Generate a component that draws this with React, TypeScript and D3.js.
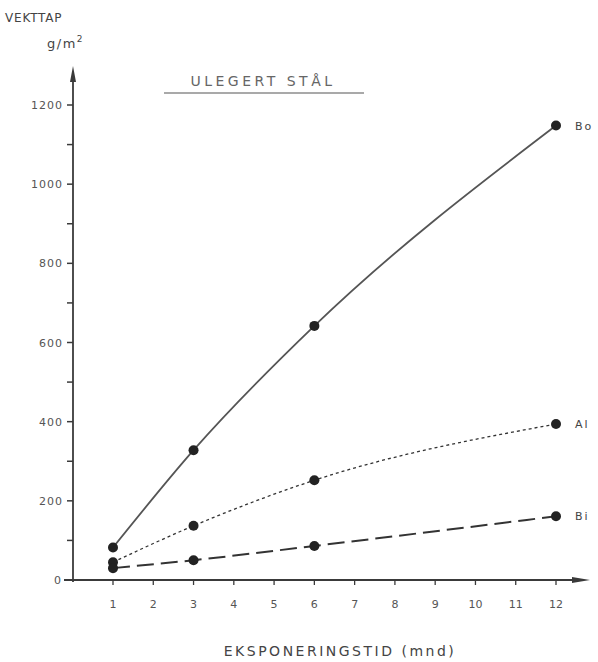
import React, { useEffect, useRef } from 'react';
import * as d3 from 'd3';

// months of exposure
const months = [1, 3, 6, 12];
// weight loss g/m2 per site
const boValues = [82, 328, 642, 1148];
const alValues = [45, 137, 252, 394];
const biValues = [30, 50, 86, 161];
const seriesNames = ['Bo', 'Al', 'Bi'];
const xTickValues = [1, 2, 3, 4, 5, 6, 7, 8, 9, 10, 11, 12];
const yTickValues = [0, 200, 400, 600, 800, 1000, 1200];

const W = 598;
const H = 662;

const App = () => {
    const svgRef = useRef<SVGSVGElement>(null);

    useEffect(() => {
        const svg = d3.select(svgRef.current);
        svg.selectAll('*').remove();

        const x = d3.scaleLinear().domain([1, 12]).range([113, 556]);
        const y = d3.scaleLinear().domain([0, 1200]).range([580, 105]);
        const axisX = 73;
        const ink = '#3a3a3a';
        const font = '"DejaVu Sans", sans-serif';

        // axes lines
        svg.append('line')
            .attr('x1', axisX).attr('x2', axisX)
            .attr('y1', y(0) + 2).attr('y2', 72)
            .attr('stroke', ink).attr('stroke-width', 1.8);
        svg.append('path')
            .attr('d', `M${axisX},66 L${axisX - 3},82 L${axisX + 3},82 Z`)
            .attr('fill', ink);
        svg.append('line')
            .attr('x1', 64).attr('x2', 580)
            .attr('y1', y(0)).attr('y2', y(0))
            .attr('stroke', ink).attr('stroke-width', 1.8);
        svg.append('path')
            .attr('d', `M590,${y(0)} L572,${y(0) - 3} L572,${y(0) + 3} Z`)
            .attr('fill', ink);

        // y ticks (minor every 100)
        const yMinor = d3.range(100, 1200, 100);
        svg.selectAll('.ytick')
            .data(yMinor.concat([1200]))
            .enter()
            .append('line')
            .attr('x1', axisX - 6).attr('x2', axisX)
            .attr('y1', d => y(d)).attr('y2', d => y(d))
            .attr('stroke', ink).attr('stroke-width', 1.5);

        svg.selectAll('.ylabel')
            .data(yTickValues)
            .enter()
            .append('text')
            .attr('x', d => d === 0 ? 62 : 63)
            .attr('y', d => y(d) + 4)
            .attr('text-anchor', 'end')
            .attr('font-family', font)
            .attr('font-size', 11)
            .attr('letter-spacing', 1)
            .attr('fill', '#555')
            .text(d => d);

        // x ticks
        svg.selectAll('.xtick')
            .data(xTickValues)
            .enter()
            .append('line')
            .attr('x1', d => x(d)).attr('x2', d => x(d))
            .attr('y1', y(0)).attr('y2', y(0) + 5)
            .attr('stroke', ink).attr('stroke-width', 1.3);

        svg.selectAll('.xlabel')
            .data(xTickValues)
            .enter()
            .append('text')
            .attr('x', d => x(d))
            .attr('y', 608)
            .attr('text-anchor', 'middle')
            .attr('font-family', font)
            .attr('font-size', 11)
            .attr('fill', '#555')
            .text(d => d);

        // series
        const seriesData = [boValues, alValues, biValues];
        const dashes = [null, '3,3', '17,7'];
        const widths = [1.8, 1.3, 2];
        const strokes = ['#555', '#333', '#333'];
        seriesData.forEach((vals, i) => {
            const pts = months.map((m, j) => [m, vals[j]] as [number, number]);
            const line = d3.line<[number, number]>()
                .x(d => x(d[0]))
                .y(d => y(d[1]))
                .curve(d3.curveMonotoneX);
            svg.append('path')
                .attr('d', line(pts))
                .attr('fill', 'none')
                .attr('stroke', strokes[i])
                .attr('stroke-width', widths[i])
                .attr('stroke-dasharray', dashes[i]);
            svg.selectAll(`.pt${i}`)
                .data(pts)
                .enter()
                .append('circle')
                .attr('cx', d => x(d[0]))
                .attr('cy', d => y(d[1]))
                .attr('r', 5)
                .attr('fill', '#222');
            svg.append('text')
                .attr('x', x(12) + 19)
                .attr('y', y(vals[vals.length - 1]) + 4)
                .attr('font-family', font)
                .attr('font-size', 11)
                .attr('letter-spacing', 2)
                .attr('fill', '#444')
                .text(seriesNames[i]);
        });

        // titles
        svg.append('text')
            .attr('x', 5).attr('y', 22)
            .attr('font-family', font).attr('font-size', 12)
            .attr('letter-spacing', 0.8)
            .attr('fill', '#444')
            .text('VEKTTAP');
        svg.append('text')
            .attr('x', 47).attr('y', 48)
            .attr('font-family', font).attr('font-size', 13)
            .attr('letter-spacing', 1.5)
            .attr('fill', '#444')
            .text('g/m')
            .append('tspan')
            .attr('dy', -6)
            .attr('font-size', 9)
            .text('2');

        svg.append('text')
            .attr('x', 263).attr('y', 86)
            .attr('text-anchor', 'middle')
            .attr('font-family', font).attr('font-size', 14)
            .attr('letter-spacing', 3.5)
            .attr('fill', '#666')
            .text('ULEGERT  STÅL');
        svg.append('line')
            .attr('x1', 164).attr('x2', 364)
            .attr('y1', 93).attr('y2', 93)
            .attr('stroke', '#555').attr('stroke-width', 1.2);

        svg.append('text')
            .attr('x', 340).attr('y', 656)
            .attr('text-anchor', 'middle')
            .attr('font-family', font).attr('font-size', 14)
            .attr('letter-spacing', 2.5)
            .attr('fill', '#444')
            .text('EKSPONERINGSTID  (mnd)');
    }, []);

    return (
        <svg ref={svgRef} width={W} height={H}
            style={{ position: 'absolute', left: 0, top: 0, background: '#fff' }}></svg>
    );
};

export default App;
